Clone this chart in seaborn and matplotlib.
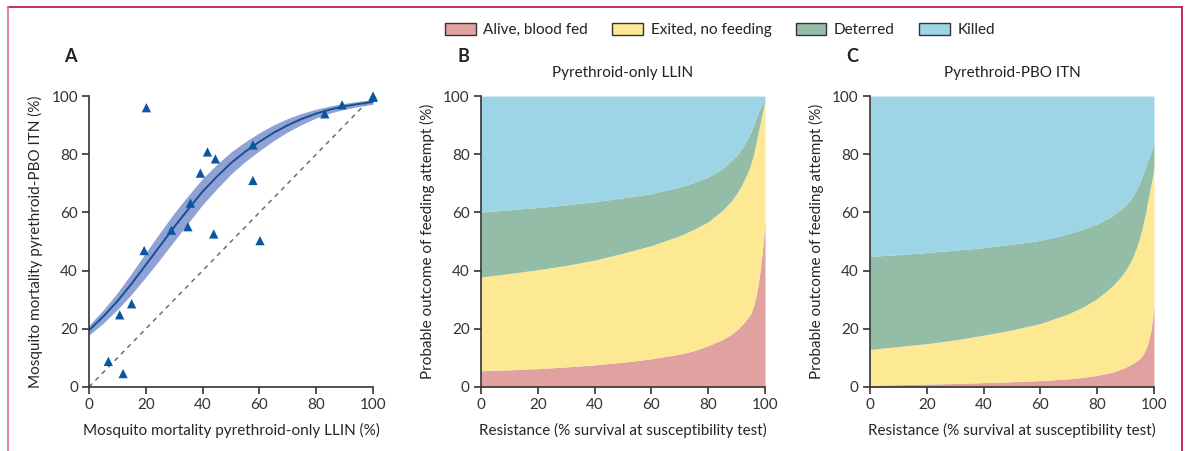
import numpy as np
import matplotlib.pyplot as plt
import seaborn as sns
from matplotlib.patches import Patch
from matplotlib.lines import Line2D

# ---- panel A: trial data and fitted relationship ----
llin_mort = [6.8, 12.0, 10.8, 15.0, 19.4, 20.2, 29.0, 34.8, 35.7, 39.2, 41.7,
             44.5, 43.9, 57.7, 57.7, 60.2, 83.0, 89.1, 100.0, 100.0]
pbo_mort = [8.8, 4.6, 24.8, 28.6, 46.9, 96.0, 53.9, 55.1, 63.2, 73.5, 80.8,
            78.4, 52.6, 83.2, 71.0, 50.3, 93.9, 97.0, 100.0, 99.6]

fit_x = [0, 5, 10, 15, 20, 25, 30, 35, 40, 45, 50, 55, 60, 65, 70, 75, 80,
         85, 90, 95, 100]
fit_y = [19.5, 24.2, 29.5, 35.5, 42.0, 48.5, 55.0, 61.2, 67.2, 72.3, 77.0,
         80.9, 84.3, 87.4, 90.0, 92.2, 94.0, 95.4, 96.5, 97.3, 98.0]
fit_lo = [17.8, 21.9, 26.6, 31.9, 37.8, 43.9, 50.2, 56.5, 62.7, 68.1, 73.2,
          77.5, 81.2, 84.7, 87.7, 90.3, 92.5, 94.2, 95.5, 96.4, 97.2]
fit_hi = [21.2, 26.5, 32.4, 39.1, 46.2, 53.1, 59.8, 65.9, 71.7, 76.5, 80.8,
          84.3, 87.4, 90.1, 92.3, 94.1, 95.5, 96.6, 97.5, 98.2, 98.8]

# ---- panels B and C: outcome boundaries (cumulative %) ----
resist = [0, 10, 20, 30, 40, 50, 60, 70, 75, 80, 85, 88, 90, 92, 94, 95, 96,
          97, 98, 99, 99.5, 100]

llin_fed = [5.6, 5.9, 6.3, 6.9, 7.6, 8.5, 9.7, 11.3, 12.5, 14.2, 16.3, 18.0,
            19.5, 21.5, 23.8, 25.2, 28.0, 32.0, 38.0, 46.0, 51.0, 57.0]
llin_exited = [37.8, 39.0, 40.3, 41.8, 43.6, 46.0, 48.6, 52.0, 54.2, 56.8,
               60.7, 63.8, 66.4, 69.8, 74.0, 76.7, 80.0, 84.8, 89.3, 94.0,
               96.5, 99.5]
llin_deterred = [60.1, 60.9, 61.7, 62.6, 63.7, 65.0, 66.5, 68.8, 70.3, 72.2,
                 75.0, 77.6, 79.6, 82.2, 85.5, 87.6, 90.0, 92.8, 95.0, 97.3,
                 98.5, 99.7]

pbo_fed = [0.6, 0.8, 1.0, 1.2, 1.5, 1.8, 2.2, 2.8, 3.3, 4.0, 5.0, 6.0, 6.8,
           7.8, 9.0, 9.8, 11.0, 12.8, 15.5, 20.0, 23.5, 28.0]
pbo_exited = [12.9, 13.9, 14.9, 16.2, 17.8, 19.6, 21.8, 25.2, 27.5, 30.4,
              34.4, 37.5, 40.1, 43.5, 48.3, 51.5, 55.3, 59.6, 65.0, 70.0,
              72.5, 76.0]
pbo_deterred = [44.9, 45.5, 46.2, 47.0, 47.9, 49.0, 50.4, 52.7, 54.2, 56.1,
                58.6, 60.8, 62.4, 64.8, 68.2, 70.4, 72.8, 75.6, 78.5, 81.0,
                82.2, 83.5]

outcomes = ["Alive, blood fed", "Exited, no feeding", "Deterred", "Killed"]
colors = ["#e2a1a1", "#fde994", "#93bda6", "#9dd5e6"]

sns.set_style("ticks")
plt.rcParams["font.family"] = ["Lato", "DejaVu Sans"]
plt.rcParams["axes.edgecolor"] = "#333333"
plt.rcParams["xtick.color"] = "#333333"
plt.rcParams["ytick.color"] = "#333333"
plt.rcParams["text.color"] = "#222222"

fig = plt.figure(figsize=(11.87, 4.51), dpi=100)
ax_a = fig.add_axes([0.075, 0.142, 0.2393, 0.645])
ax_b = fig.add_axes([0.4052, 0.142, 0.2393, 0.645])
ax_c = fig.add_axes([0.7329, 0.142, 0.2393, 0.645])


def style_axes(ax, xlabel, ylabel):
    ax.set_xlim(0, 100)
    ax.set_ylim(0, 100)
    ax.set_xticks(range(0, 101, 20))
    ax.set_yticks(range(0, 101, 20))
    ax.tick_params(labelsize=11, length=5, width=1.2, pad=3)
    ax.set_xlabel(xlabel, fontsize=11, labelpad=8)
    ax.set_ylabel(ylabel, fontsize=11, labelpad=6)
    for s in ["left", "bottom"]:
        ax.spines[s].set_linewidth(1.2)
    sns.despine(ax=ax)


# panel A
ax_a.plot([0, 100], [0, 100], ls=(0, (3, 3)), color="#5b7385", lw=1.1)
ax_a.fill_between(fit_x, fit_lo, fit_hi, color="#8fa2d3", lw=0)
sns.lineplot(x=fit_x, y=fit_y, ax=ax_a, color="#174f95", lw=1.4)
sns.scatterplot(x=llin_mort, y=pbo_mort, ax=ax_a, marker="^", s=45,
                color="#0b56a2", edgecolor="none", clip_on=False, zorder=5)
style_axes(ax_a, "Mosquito mortality pyrethroid-only LLIN (%)",
           "Mosquito mortality pyrethroid-PBO ITN (%)")


def stacked(ax, fed, exited, deterred, title):
    zeros = [0] * len(resist)
    tops = [100] * len(resist)
    bounds = [zeros, fed, exited, deterred, tops]
    for i in range(4):
        ax.fill_between(resist, bounds[i], bounds[i + 1], color=colors[i],
                        lw=0)
    ax.set_title(title, fontsize=11, pad=14)
    style_axes(ax, "Resistance (% survival at susceptibility test)",
               "Probable outcome of feeding attempt (%)")


stacked(ax_b, llin_fed, llin_exited, llin_deterred, "Pyrethroid-only LLIN")
stacked(ax_c, pbo_fed, pbo_exited, pbo_deterred, "Pyrethroid-PBO ITN")

for ax, lab, xp in [(ax_a, "A", 70), (ax_b, "B", 463), (ax_c, "C", 852)]:
    fig.text(xp / 1187, 1 - 57 / 451, lab, fontsize=13, fontweight="bold",
             ha="center", va="center")

handles = [Patch(facecolor=c, edgecolor="#333333", lw=1.0) for c in colors]
fig.legend(handles, outcomes, loc="center", ncol=4, frameon=False,
           bbox_to_anchor=(720 / 1187, 1 - 30 / 451), fontsize=11,
           handlelength=2.0, handleheight=0.9, columnspacing=1.6,
           handletextpad=0.5)

# journal frame
fig.add_artist(Line2D([8 / 1187, 1182 / 1187], [1 - 7 / 451] * 2,
                      color="#c51d4b", lw=1.3))
fig.add_artist(Line2D([1182 / 1187] * 2, [0, 1 - 7 / 451],
                      color="#c51d4b", lw=1.3))
fig.add_artist(Line2D([8 / 1187] * 2, [0, 1 - 7 / 451],
                      color="#de7792", lw=1.3))

fig.savefig("out.png", dpi=100)
